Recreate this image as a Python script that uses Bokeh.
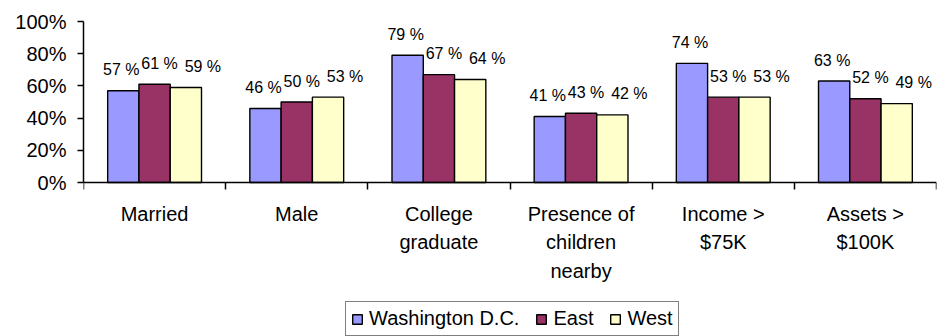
from bokeh.plotting import figure
from bokeh.models import ColumnDataSource, FixedTicker, PrintfTickFormatter, Legend, LegendItem, Range1d
from bokeh.transform import dodge
from bokeh.core.properties import value
from bokeh.embed import file_html
from bokeh.resources import INLINE

categories = ["Married", "Male", "College\ngraduate", "Presence of\nchildren\nnearby", "Income >\n$75K", "Assets >\n$100K"]
series_names = ["Washington D.C.", "East", "West"]
dc = [57, 46, 79, 41, 74, 63]
east = [61, 50, 67, 43, 53, 52]
west = [59, 53, 64, 42, 53, 49]
y_ticks = [0, 20, 40, 60, 80, 100]

colors = ["#9999FF", "#993366", "#FFFFCC"]
FONT = "Liberation Sans"

centers = [i + 0.5 for i in range(len(categories))]
src = ColumnDataSource(dict(
    x=centers,
    dc=dc, east=east, west=west,
    dc_l=[f"{v} %" for v in dc],
    east_l=[f"{v} %" for v in east],
    west_l=[f"{v} %" for v in west],
))

# frame spans down to the bottom of the page; 0% sits 154 px above the bottom
p = figure(frame_width=853, frame_height=315, output_backend="svg", toolbar_location=None,
           x_range=Range1d(0, len(categories)), y_range=Range1d(-100 * 154 / 161, 100),
           min_border_left=83, min_border_right=1, min_border_top=21, min_border_bottom=0)
p.outline_line_color = None
p.grid.visible = False
p.background_fill_color = "white"

bw = 0.22
offs = [-0.22, 0.0, 0.22]
cols = ["dc", "east", "west"]
lx = [-2, 5, 17]
items = []
for name, col, c, o, xo in zip(series_names, cols, colors, offs, lx):
    r = p.vbar(x=dodge("x", o, range=p.x_range), top=col, width=bw, bottom=0, source=src,
               fill_color=c, line_color="black", line_width=1.4)
    items.append(LegendItem(label=name, renderers=[r]))
    p.text(x=dodge("x", o, range=p.x_range), y=col, text=col + "_l", source=src,
           text_align="center", text_baseline="alphabetic", y_offset=-21, x_offset=xo,
           text_font=value(FONT), text_font_size="16px", text_color="black")

# y axis
p.yaxis.ticker = FixedTicker(ticks=y_ticks)
p.yaxis.bounds = (0, 100)
p.yaxis.formatter = PrintfTickFormatter(format="%d%%")
p.yaxis.major_label_text_font = FONT
p.yaxis.major_label_text_font_size = "20px"
p.yaxis.major_label_text_color = "black"
p.yaxis.major_tick_out = 6
p.yaxis.major_tick_in = 0
p.yaxis.minor_tick_line_color = None
p.yaxis.axis_line_color = "black"
p.yaxis.axis_line_width = 1.5
p.yaxis.major_tick_line_width = 1.5
p.yaxis.major_label_standoff = 11

# x axis drawn at the 0% line
p.xaxis.fixed_location = 0
p.xaxis.ticker = FixedTicker(ticks=centers, minor_ticks=list(range(len(categories) + 1)))
p.xaxis.major_label_overrides = {c: lab for c, lab in zip(centers, categories)}
p.xaxis.major_tick_line_color = None
p.xaxis.major_tick_out = 0
p.xaxis.major_tick_in = 0
p.xaxis.minor_tick_out = 7
p.xaxis.minor_tick_in = 0
p.xaxis.minor_tick_line_width = 1.5
p.xaxis.minor_tick_line_color = "black"
p.xaxis.axis_line_color = "black"
p.xaxis.axis_line_width = 1.5
p.xaxis.major_label_text_font = FONT
p.xaxis.major_label_text_font_size = "20px"
p.xaxis.major_label_text_color = "black"
p.xaxis.major_label_text_line_height = 1.3
p.xaxis.major_label_standoff = 13
p.xaxis.major_label_orientation = "horizontal"

legend = Legend(items=items, orientation="horizontal", location=(262, 0),
                label_text_font=FONT, label_text_font_size="20px", label_text_color="black",
                glyph_width=12, glyph_height=12, label_standoff=6, spacing=16, padding=5,
                label_height=12, margin=0, border_line_color="black", border_line_width=1.5,
                background_fill_color="white")
p.add_layout(legend, "center")

open("out.html", "w").write(file_html(p, INLINE))
